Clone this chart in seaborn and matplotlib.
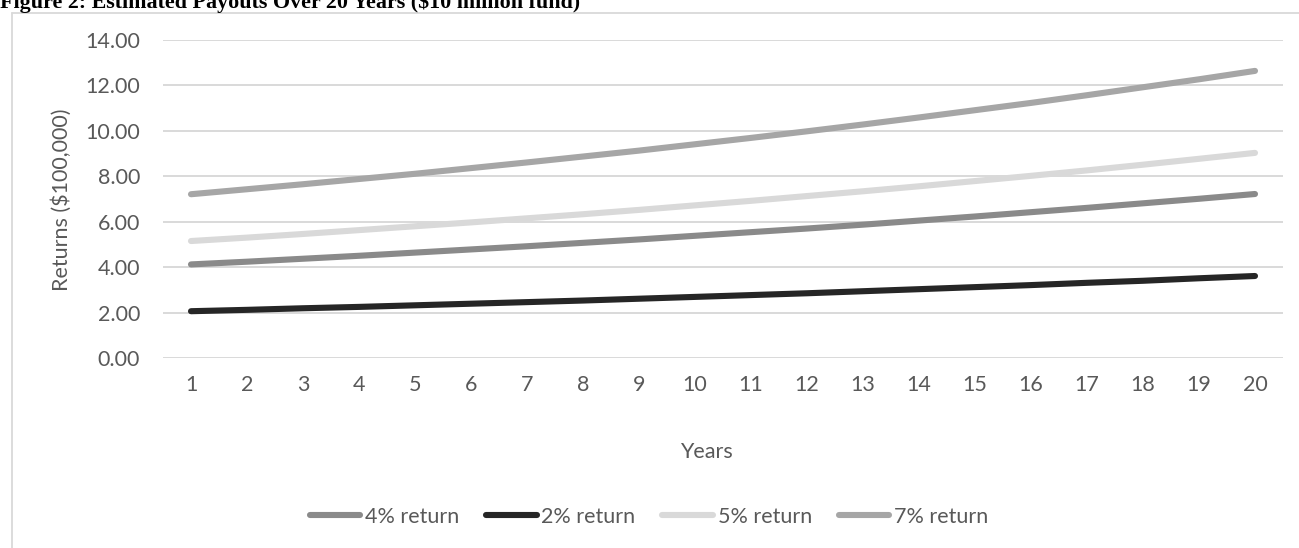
import matplotlib
matplotlib.use("Agg")
import matplotlib.pyplot as plt
from matplotlib.lines import Line2D
import seaborn as sns
import pandas as pd

# Payout per year, in units of $100,000
years = list(range(1, 21))
ret_4 = [4.12, 4.24, 4.37, 4.50, 4.64, 4.78, 4.92, 5.07, 5.22, 5.38,
         5.54, 5.70, 5.87, 6.05, 6.23, 6.42, 6.61, 6.81, 7.01, 7.22]
ret_2 = [2.06, 2.12, 2.19, 2.25, 2.32, 2.39, 2.46, 2.53, 2.61, 2.69,
         2.77, 2.85, 2.94, 3.03, 3.12, 3.21, 3.31, 3.40, 3.51, 3.61]
ret_5 = [5.15, 5.30, 5.46, 5.63, 5.80, 5.97, 6.15, 6.33, 6.52, 6.72,
         6.92, 7.13, 7.34, 7.56, 7.79, 8.02, 8.26, 8.51, 8.77, 9.03]
ret_7 = [7.21, 7.43, 7.65, 7.88, 8.11, 8.36, 8.61, 8.87, 9.13, 9.41,
         9.69, 9.98, 10.28, 10.59, 10.91, 11.23, 11.57, 11.92, 12.27, 12.64]

series_names = ["4% return", "2% return", "5% return", "7% return"]
series_values = [ret_4, ret_2, ret_5, ret_7]
series_colors = ["#8a8a8a", "#262626", "#d9d9d9", "#a6a6a6"]
y_ticks = [0, 2, 4, 6, 8, 10, 12, 14]

title = "Figure 2: Estimated Payouts Over 20 Years ($10 million fund)"
x_title = "Years"
y_title = "Returns ($100,000)"

sns.set_theme(style="white")
plt.rcParams["font.family"] = ["Lato", "DejaVu Sans"]

TXT = "#595959"
GRID = "#d9d9d9"
FS = 15.5
LW = 4.4

W, H = 1299, 548
fig = plt.figure(figsize=(W / 100, H / 100), dpi=100)
fig.patch.set_facecolor("white")

# chart frame (only top and left edges fall inside the canvas)
fig.add_artist(Line2D([11.5 / W, 11.5 / W], [0, 1 - 12.5 / H], color=GRID, lw=1.3))
fig.add_artist(Line2D([11.5 / W, 1], [1 - 12.5 / H, 1 - 12.5 / H], color=GRID, lw=1.3))

ax = fig.add_axes([163 / W, 1 - 358 / H, (1283 - 163) / W, (358 - 40) / H])

frames = []
for name, vals in zip(series_names, series_values):
    frames.append(pd.DataFrame({"Year": years, "Return": vals, "Series": name}))
df = pd.concat(frames, ignore_index=True)

palette = dict(zip(series_names, series_colors))
sns.lineplot(data=df, x="Year", y="Return", hue="Series", hue_order=series_names,
             palette=palette, lw=LW, ax=ax, legend=False,
             solid_capstyle="round", zorder=3)

ax.set_xlim(0.5, 20.5)
ax.set_ylim(0, 14)
ax.set_xticks(years)
ax.set_xticklabels([str(y) for y in years])
ax.set_yticks(y_ticks)
ax.set_yticklabels([f"{v:.2f}" for v in y_ticks])
ax.yaxis.grid(True, color=GRID, lw=1.4)
ax.xaxis.grid(False)
ax.set_axisbelow(True)
for s in ax.spines.values():
    s.set_visible(False)
ax.tick_params(axis="y", length=0, pad=16.5, labelsize=FS, labelcolor=TXT)
ax.tick_params(axis="x", length=0, pad=12, labelsize=FS, labelcolor=TXT)
ax.set_xlabel("")
ax.set_ylabel("")

fig.text(706 / W, 1 - 452 / H, x_title, ha="center", va="center", fontsize=FS, color=TXT)
fig.text(62 / W, 1 - 200 / H, y_title, ha="center", va="center", rotation=90,
         fontsize=FS, color=TXT)

fig.text(0, 1 - 8 / H, title, ha="left", va="baseline", fontsize=15.8,
         fontweight="bold", family=["Liberation Serif", "DejaVu Serif"], color="black")

handles = [Line2D([0], [0], color=c, lw=LW, solid_capstyle="round") for c in series_colors]
fig.legend(handles, series_names, loc="center", bbox_to_anchor=(649 / W, 1 - 517 / H),
           ncol=4, frameon=False, fontsize=FS, labelcolor=TXT,
           handlelength=2.35, handletextpad=0.22, columnspacing=1.25,
           borderpad=0, borderaxespad=0)

fig.savefig("out.png", dpi=100, facecolor="white")
